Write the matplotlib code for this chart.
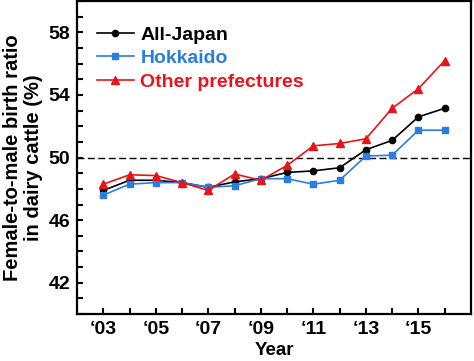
import numpy as np
import matplotlib.pyplot as plt

plt.rcParams['font.family'] = ['Liberation Sans', 'DejaVu Sans']
plt.rcParams['font.weight'] = 'bold'

years = list(range(2003, 2017))
all_japan = [47.9, 48.55, 48.55, 48.4, 48.1, 48.45, 48.65, 49.05, 49.15, 49.35, 50.5, 51.1, 52.6, 53.15]
hokkaido = [47.6, 48.3, 48.4, 48.4, 48.1, 48.2, 48.65, 48.65, 48.3, 48.55, 50.1, 50.15, 51.75, 51.75]
other = [48.3, 48.9, 48.85, 48.4, 47.9, 48.95, 48.55, 49.5, 50.75, 50.9, 51.2, 53.15, 54.4, 56.2]
tick_years = [2003, 2005, 2007, 2009, 2011, 2013, 2015]
tick_labels = ['\u201803', '\u201805', '\u201807', '\u201809', '\u201811', '\u201813', '\u201815']

fig = plt.figure(figsize=(4.74, 3.61), dpi=100)
ax = fig.add_axes([0.1625, 0.13, 0.831, 0.867])

ax.axhline(50, color='black', linestyle='--', linewidth=1, dashes=(5, 2.5))
ax.plot(years, all_japan, color='black', marker='o', markersize=4.5, linewidth=1.2, label='All-Japan')
ax.plot(years, hokkaido, color='#2a7de1', marker='s', markersize=4.5, linewidth=1.2, label='Hokkaido')
ax.plot(years, other, color='#e8141c', marker='^', markersize=5.5, linewidth=1.2, label='Other prefectures')

ax.set_xlim(2002, 2017)
ax.set_ylim(40, 60)
ax.set_xticks(years, minor=True)
ax.set_xticks(tick_years)
ax.set_xticklabels(tick_labels)
ax.set_yticks(np.arange(40, 61, 1), minor=True)
ax.set_yticks([42, 46, 50, 54, 58])
ax.tick_params(which='both', direction='in', length=4, width=1.5, labelsize=14)
ax.tick_params(axis='y', pad=5)
ax.tick_params(axis='x', pad=5)
for s in ax.spines.values():
    s.set_linewidth(1.6)

ax.set_xlabel('Year', fontsize=13.5, fontweight='bold', labelpad=3)
ax.set_ylabel('Female-to-male birth ratio\nin dairy cattle (%)', fontsize=14.5, fontweight='bold',
              linespacing=1.15, labelpad=4)

leg = ax.legend(loc='upper left', frameon=False, fontsize=14, handlelength=1.9,
                handletextpad=0.35, labelspacing=0.3, borderaxespad=0, borderpad=0,
                bbox_to_anchor=(0.05, 0.92))
for text, c in zip(leg.get_texts(), ['black', '#2a7de1', '#e8141c']):
    text.set_color(c)
    text.set_fontweight('bold')

fig.savefig('out.png', dpi=100)
